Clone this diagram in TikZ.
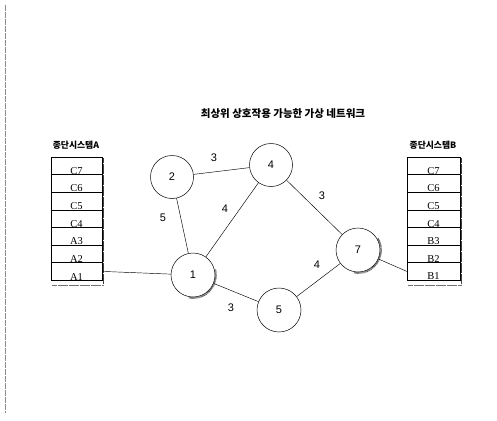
\documentclass[tikz,border=0pt]{standalone}
\usepackage{fontspec}
\setmainfont{Liberation Serif}
\newfontfamily\krfont{Noto Sans CJK KR}
\newfontfamily\numfont{Liberation Sans}
\begin{document}
\begin{tikzpicture}[x=1pt,y=-1pt,
  netnode/.style={circle, draw, line width=0.5pt, minimum size=44pt, inner sep=0pt, font=\numfont\fontsize{11}{13}\selectfont},
  elab/.style={font=\numfont\fontsize{11}{13}\selectfont, inner sep=0pt},
  link/.style={line width=0.45pt},
  cellbox/.style={draw, line width=0.45pt, minimum height=17.6pt, inner sep=0pt},
  celltext/.style={font=\fontsize{10.5}{12}\selectfont, inner sep=0.2pt, anchor=south},
  grain/.style={line width=1.8pt, black!75, dash pattern=on 0.5pt off 0.6pt},
  kr/.style={font=\krfont\bfseries\fontsize{8.8}{10}\selectfont, inner sep=0pt}
]
\useasboundingbox (0,0) rectangle (497,420);

% margin rule at the left edge
\draw[black!45, line width=0.6pt, dash pattern=on 6pt off 1pt] (5,5) -- (5,413);

% title
\node[kr, font=\krfont\bfseries\fontsize{10.5}{12}\selectfont] (title) at (283,114) {최상위 상호작용 가능한 가상 네트워크};

% end system A
\node[kr] (labA) at (76,145) {종단시스템A};
\foreach \i/\t in {1/C7,2/C6,3/C5,4/C4,5/A3,6/A2,7/A1}{
  \node[cellbox, minimum width=51pt, label={[celltext]south:\t}] (a\i) at (76.5,{148.2+17.6*\i}) {};
}
\draw[grain] (103.5,158) -- (103.5,285);
\draw[grain, black!55, line width=1.3pt] (52,285.5) -- (103,285.5);

% end system B
\node[kr] (labB) at (433,145) {종단시스템B};
\foreach \i/\t in {1/C7,2/C6,3/C5,4/C4,5/B3,6/B2,7/B1}{
  \node[cellbox, minimum width=53pt, label={[celltext]south:\t}] (b\i) at (433.5,{148.2+17.6*\i}) {};
}
\draw[grain] (461.5,158) -- (461.5,285);
\draw[grain, black!55, line width=1.3pt] (408,285.5) -- (461,285.5);

% network nodes
\node[netnode, minimum size=43pt] (n2) at (172,177) {2};
\node[netnode, minimum size=43pt] (n4) at (271,165) {4};
\node[netnode] (n1) at (193,275) {1};
\node[netnode] (n5) at (279,310) {5};
\node[netnode] (n7) at (358,250) {7};

% grainy shadows on nodes 1 and 7
\draw[grain] (n1.center) ++(100:23) arc[start angle=100, end angle=-15, radius=23];
\draw[grain] (n7.center) ++(100:23) arc[start angle=100, end angle=-30, radius=23];

% links
\draw[link] (n1) -- (n2);
\draw[link] (n2) -- (n4);
\draw[link] (n1) -- (n4);
\draw[link] (n4) -- (n7);
\draw[link] (n1) -- (n5);
\draw[link] (n5) -- (n7);
\draw[link] (a7.east) -- (n1);
\draw[link] (n7) -- (b7.west);

% link costs
\node[elab] (c12) at (163,218) {5};
\node[elab] (c24) at (214,158) {3};
\node[elab] (c14) at (225,209) {4};
\node[elab] (c47) at (322,196) {3};
\node[elab] (c15) at (231,308) {3};
\node[elab] (c57) at (317,265) {4};
\end{tikzpicture}
\end{document}
